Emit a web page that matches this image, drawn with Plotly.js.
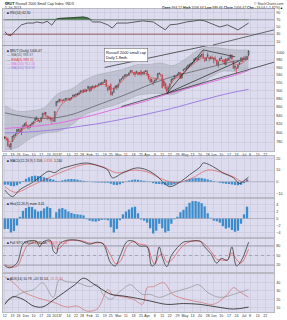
<!DOCTYPE html>
<html><head><meta charset="utf-8">
<script src="https://cdn.plot.ly/plotly-3.0.1.min.js"></script>
<style>html,body{margin:0;padding:0;background:#fff;}#wrap{position:relative;width:287px;height:320px;}#chart{position:absolute;left:0;top:0;width:287px;height:320px;}#rsi{position:absolute;left:0;top:0;width:287px;height:48px;}</style>
</head><body><div id="wrap"><div id="chart"></div><div id="rsi"></div></div>
<script>
// ---- price data (trading-day index 0 = 12 Nov 2012 ... 161 = 5 Jul 2013) ----
const openP = [790,786,787,773,769,781,792,795,799,806, 807,800,813,816,823,815,813,815,821,821,
 828,834,831,826,826,836,845,843,836,835, 834,831,829,826,863,873,874,878,876,876,
 880,880,879,877,881,885,888,889,892,891, 895,900,897,902,899,905,909,900,908,911,
 909,912,912,917,915,922,921,927,908,903, 915,891,896,907,908,911,921,929,931,938,
 937,940,940,947,952,942,946,945,946,942, 950,943,942,950,951,942,930,923,917,923,
 928,932,944,941,940,912,919,908,899,909, 920,929,931,937,938,943,946,932,951,955,
 958,961,967,968,971,974,982,985,981,988, 993,997,979,979,994,986,983,986,984,985,
 980,968,979,985,979,979,968,983,980,985, 993,977,960,958,959,968,976,985,981,986,
 983,994];
const highP = [793,792,790,776,778,793,796,799,808,809, 811,812,818,822,826,818,818,820,824,827,
 836,838,834,829,836,846,849,848,840,838, 837,834,833,850,874,876,880,879,877,879,
 882,881,882,882,884,890,890,892,894,897, 901,902,903,905,903,912,910,911,913,912,
 914,914,918,920,922,923,928,928,910,911, 919,897,908,913,914,918,929,931,937,942,
 942,942,946,953,953,948,949,951,948,948, 953,947,950,953,953,943,932,930,924,928,
 932,945,947,943,941,925,919,911,910,918, 930,932,940,938,944,948,947,945,956,958,
 962,967,970,972,974,984,987,986,989,995, 997,1008,986,987,1001,987,992,992,987,992,
 981,975,986,991,983,982,984,986,990,996, 996,979,965,962,967,975,987,987,991,992,
 992,1006];
const lowP = [786,783,770,766,763,780,788,793,798,802, 802,795,809,813,814,809,808,811,816,819,
 827,829,825,823,825,835,840,838,829,832, 826,820,826,825,862,869,871,872,869,874,
 874,876,876,874,878,884,885,884,888,890, 894,896,894,896,896,903,897,900,906,903,
 908,909,911,914,914,916,920,910,897,902, 889,887,894,906,902,906,920,926,929,933,
 935,936,937,946,946,940,935,944,939,941, 937,942,941,948,938,928,919,920,913,920,
 923,931,940,935,906,911,902,893,898,905, 918,926,930,932,937,940,930,931,950,953,
 953,958,962,965,968,973,978,977,980,986, 988,983,974,977,987,976,982,983,971,978,
 966,960,977,983,973,967,965,976,979,984, 982,956,951,943,956,966,975,975,980,979,
 980,990];
const closeP = [789,786,772,769,777,793,795,797,808,808, 803,811,816,821,815,814,815,819,822,826,
 832,832,827,825,835,845,843,847,836,834, 831,830,827,849,873,873,879,876,875,877,
 880,880,879,881,882,889,889,891,891,894, 900,898,902,898,902,911,898,910,911,908,
 913,912,917,917,921,920,928,910,901,911, 889,896,906,911,913,917,928,930,936,938,
 941,940,946,952,949,944,941,950,941,947, 941,946,949,951,940,930,923,929,923,927,
 930,944,944,942,907,925,906,898,908,917, 929,930,939,936,942,947,931,944,955,957,
 962,967,967,972,973,983,985,979,989,992, 995,987,984,986,990,983,988,984,985,982,
 967,975,984,984,976,969,983,978,984,993, 982,957,964,956,966,973,986,977,986,985,
 990,1006];

// ---- overlays ----
const ema8Idx = [0,4,8,12,16,20,24,28,32,36,40,44,48,52,56,60,64,68,72,76,80,84,88,92,96,100,104,108,112,116,120,124,128,132,136,140,144,148,152,156,160,161];
const ema8Val = [792,780,795,808,815,824,830,838,833,858,874,880,888,897,903,909,916,913,904,918,934,946,945,946,935,930,928,911,929,938,954,967,980,987,986,978,979,980,969,970,983,989];
const bbIdx = [0,8,17,26,35,44,52,61,70,78,87,95,103,111,120,128,136,144,152,161];
const bbUpper = [863,850,851,858,892,904,925,940,948,955,967,968,972,965,985,1008,1016,1012,1008,1008];
const bbLower = [763,768,788,800,803,818,840,852,862,872,887,892,893,890,905,915,935,950,950,958];
const ma50Idx = [0,23,41,63,79,93,107,129,153,161];
const ma50Val = [846,833,839,867,889,911,931,954,978,983];
const ma100Idx = [0,30,52,76,93,107,129,153,161];
const ma100Val = [810,819,835,858,874,891,914,941,952];
const ma200Idx = [0,10,20,30,40,50,60,70,80,90,100,110,120,130,140,150,161];
const ma200Val = [800,801,803,806,810,815,820,826,833,840,848,856,866,876,886,895,903];

// hand-drawn trend lines: [startIdx, startPrice, endIdx, endPrice]
const trendLines = [
  [66, 960, 178.5, 1062],
  [77, 861, 178.5, 975],
  [107, 893, 131, 1008],
  [107, 893, 155, 978],
  [131, 1008, 152, 989]
];

// ---- RSI ----
const rsiIdx = [0,2,4,6,8,11,15,19,21,25,28,31,34,36,41,48,52,55,58,63,68,71,74,81,85,91,98,103,106,109,114,120,124,129,132,138,142,147,151,154,157,161];
const rsiVal = [37,28,27,36,45,56,61,61,64,61,66,55,72,74,75,78,78,75,64,64,56,47,61,61,64,67,64,50,42,56,58,64,67,69,67,56,50,56,47,42,50,61];

// ---- MACD ----
const macdIdx = [0,5,10,19,25,29,33,37,41,48,54,61,68,71,78,87,94,101,105,109,116,122,129,131,138,144,151,155,158,161];
const macdVal = [-7,-12.6,-6.7,0,5.9,9,7.8,11,12.6,15,16,14,10,3.4,7.6,11.8,10,4.2,-0.8,-4.2,0,5.9,12.6,16,12.6,7.6,3.4,-1.5,1.0,4.0];
const sigIdx = [0,7,19,30,41,54,65,74,85,94,105,114,124,134,142,151,157,161];
const sigVal = [-4,-9,-2.5,4,10,15,12.6,7.6,10,8.4,1.7,-0.8,3.4,10,8.4,4.2,0,1.7];
const histIdx = [0,2,4,6,8,10,12,14,16,18,20,22,24,26,28,30,32,34,36,38,40,42,44,46,48,50,52,54,56,58,60,62,64,66,68,70,72,74,76,78,80,82,84,86,88,90,92,94,96,98,100,102,104,106,108,110,112,114,116,118,120,122,124,126,128,130,132,134,136,138,140,142,144,146,148,150,152,154,156,158,160];
const macdHist = [-2.5,-2.5,-3.5,-3.8,-3.0,-1.5,0.5,2.5,3.8,4.8,5.2,5.0,4.5,3.8,3.2,2.5,1.8,0.8,0.5,1.2,1.8,2.2,2.4,2.2,1.8,1.2,0.8,0.4,0.1,-0.3,-0.5,-0.6,-0.7,-0.8,-0.8,-1.6,-2.6,-2.8,-2.2,-1.0,0.2,1.0,1.6,1.9,1.7,1.2,0.8,0.4,-0.3,-1.2,-1.8,-1.9,-2.2,-2.8,-3.1,-2.9,-2.2,-1.3,-0.4,0.4,1.4,2.3,2.9,3.3,3.4,3.1,2.7,2.0,1.3,0.6,-0.1,-0.8,-1.3,-1.7,-1.9,-2.3,-2.7,-3.0,-2.6,-1.2,2.0];
const hist2 = [-3.0,-3.0,-4.0,-3.6,-2.0,0.5,2.2,3.0,3.4,3.3,2.6,2.0,2.2,2.9,3.4,3.0,0.2,1.8,2.8,3.0,2.6,2.0,1.6,1.3,1.2,1.1,0.9,-0.2,-0.6,-0.8,-0.9,-0.7,-0.4,-0.3,-0.5,-2.5,-4.0,-3.0,-0.5,1.2,2.0,2.6,3.2,3.4,1.5,-0.3,-0.6,-1.2,-2.8,-4.3,-3.5,-1.5,-2.8,-4.0,-3.6,-1.5,-0.2,0.5,1.8,2.5,3.4,4.5,5.0,5.0,4.8,4.4,3.5,1.5,0.2,-0.6,-0.8,-1.2,-2.2,-2.9,-2.6,-3.3,-3.8,-3.5,-1.5,1.2,3.4];

// ---- Stochastics ----
const stochIdx = [0,3,8,12,15,21,23,25,30,32,34,36,41,48,52,56,61,65,70,73,76,81,85,89,94,97,99,102,104,107,110,114,118,122,129,132,136,140,143,147,150,153,156,161];
const stochK = [18,11,26,86,95,95,77,92,98,65,56,86,98,98,92,86,92,86,26,17,47,95,95,80,77,17,22,77,45,15,50,75,92,95,95,77,56,26,41,35,77,17,32,92];
const stochD = [22,15,16,55,82,93,88,87,95,84,70,72,95,98,95,89,90,88,50,25,30,80,94,86,80,40,22,50,55,30,35,60,82,93,95,86,65,38,36,36,58,38,26,70];

// ---- ADX ----
const adxIdx = [0,5,12,19,25,32,39,46,52,58,64,70,78,85,96,107,118,129,140,151,161];
const adxVal = [14,23,20,12,11,19,28,37,45,39,32,26,24,22,18,14,15,14,11,8.5,10.8];
const pdiIdx = [0,12,19,25,32,36,41,48,56,61,65,70,76,83,87,91,96,102,111,122,128,134,142,151,155,161];
const pdiVal = [16.6,28.1,31.5,39.6,22.3,43.1,40.8,39.6,35,37.3,25.8,20,29.2,37.3,31.5,25.8,25.8,22.3,28.1,33.9,37.3,28.1,22.3,25.8,28.1,31.5];
const mdiIdx = [0,5,12,19,25,32,41,48,54,61,68,71,76,85,91,94,98,105,111,120,129,138,147,151,155,161];
const mdiVal = [46.5,40.8,29.2,23.5,20,16.6,10.8,12,6.2,8.5,31.5,25.8,23.5,20,14.2,33.9,35,39.6,25.8,20,16.6,14.2,25.8,33.9,29.2,22.3];

// ---- axis labels ----
const tickIdx = [0,5,9,14,19,24,29,34,37,42,47,51,56,61,66,70,75,80,85,90,94,99,104,109,114,119,124,129,134,138,143,148,153,158,162,167,172];
const tickTxt = ['12','19','26','Dec','10','17','24','2013','7','14','22','28','Feb','11','19','25','Mar','11','18','25','Apr','8','15','22','29','May','13','20','28','Jun','10','17','24','Jul','8','15','22'];
const priceTicks = [780,800,820,840,860,880,900,920,940,960,980,1000];

// ---------------------------------------------------------------
const F = 'Liberation Sans, Arial, sans-serif';
const GRID = '#c3c3d6';
const BOX = '#8a8a98';
const BG = '#dcdcee';
const N = closeP.length;
const tf = {family:F, size:3.6, color:'#333'};

function xa(anchor, labels) {
  return {anchor: anchor, range:[-1.2,177.8], tickmode:'array', tickvals:tickIdx, ticktext:tickTxt,
    showticklabels: labels, tickfont: tf, tickangle:0, ticks:'', showgrid:true, gridcolor:GRID, gridwidth:0.5,
    zeroline:false, showline:true, mirror:true, linecolor:BOX, linewidth:0.6,
    rangeslider:{visible:false}, fixedrange:true, ticklabelstandoff:0};
}
function ya(anchor, dom, range, vals, extra) {
  return Object.assign({anchor: anchor, domain:dom, range:range, side:'right', tickmode:'array', tickvals:vals,
    tickfont: tf, ticks:'', showgrid:true, gridcolor:GRID, gridwidth:0.5, zeroline:false,
    showline:true, mirror:true, linecolor:BOX, linewidth:0.6, fixedrange:true, ticklabelstandoff:1}, extra||{});
}
function xm(a, labels) { const o = xa(a, labels); o.matches = 'x'; return o; }

// ================= main figure (price + lower indicator panels) =================
const traces = [];
traces.push({x: bbIdx, y: bbLower, type:'scatter', mode:'lines', line:{color:'#9ea2ac', width:0.5, shape:'spline'}, xaxis:'x', yaxis:'y'});
traces.push({x: bbIdx, y: bbUpper, type:'scatter', mode:'lines', line:{color:'#9ea2ac', width:0.5, shape:'spline'}, fill:'tonexty', fillcolor:'rgba(150,156,166,0.38)', xaxis:'x', yaxis:'y'});
traces.push({x: ma200Idx, y: ma200Val, type:'scatter', mode:'lines', line:{color:'#a17fe0', width:1, shape:'spline'}, xaxis:'x', yaxis:'y'});
traces.push({x: ma100Idx, y: ma100Val, type:'scatter', mode:'lines', line:{color:'#e070e0', width:1, shape:'spline'}, xaxis:'x', yaxis:'y'});
traces.push({x: ma50Idx, y: ma50Val, type:'scatter', mode:'lines', line:{color:'#555760', width:0.7, shape:'spline'}, xaxis:'x', yaxis:'y'});
traces.push({x: ema8Idx, y: ema8Val, type:'scatter', mode:'lines', line:{color:'#e23a3a', width:0.6, shape:'spline'}, xaxis:'x', yaxis:'y'});
trendLines.forEach(t => traces.push({x:[t[0], t[2]], y:[t[1], t[3]], type:'scatter', mode:'lines', line:{color:'#222', width:0.7}, xaxis:'x', yaxis:'y'}));

const redI = [], blkI = [];
for (let i = 0; i < N; i++) { if (i > 0 && closeP[i] < closeP[i-1]) redI.push(i); else blkI.push(i); }
function candle(ids, col) {
  return {type:'candlestick', x: ids, open: ids.map(i=>openP[i]), high: ids.map(i=>highP[i]),
    low: ids.map(i=>lowP[i]), close: ids.map(i=>closeP[i]),
    increasing:{line:{color:col, width:0.6}, fillcolor:BG},
    decreasing:{line:{color:col, width:0.6}, fillcolor:col},
    whiskerwidth:0, xaxis:'x', yaxis:'y'};
}
traces.push(candle(blkI, '#111111'));
traces.push(candle(redI, '#d8101a'));

traces.push({x: histIdx, y: macdHist, type:'bar', width:1.5, marker:{color:'#3b8ccc', line:{width:0}}, xaxis:'x3', yaxis:'y3'});
traces.push({x: sigIdx, y: sigVal, type:'scatter', mode:'lines', line:{color:'#e04848', width:0.6, shape:'spline'}, xaxis:'x3', yaxis:'y3'});
traces.push({x: macdIdx, y: macdVal, type:'scatter', mode:'lines', line:{color:'#222', width:0.7, shape:'spline'}, xaxis:'x3', yaxis:'y3'});
traces.push({x: histIdx, y: hist2, type:'bar', width:1.5, marker:{color:'#3b8ccc', line:{width:0}}, xaxis:'x4', yaxis:'y4'});
traces.push({x: stochIdx, y: stochD, type:'scatter', mode:'lines', line:{color:'#e05050', width:0.7, shape:'spline'}, xaxis:'x5', yaxis:'y5'});
traces.push({x: stochIdx, y: stochK, type:'scatter', mode:'lines', line:{color:'#222', width:0.7, shape:'spline'}, xaxis:'x5', yaxis:'y5'});
traces.push({x: pdiIdx, y: pdiVal, type:'scatter', mode:'lines', line:{color:'#8f938f', width:0.7, shape:'spline'}, xaxis:'x6', yaxis:'y6'});
traces.push({x: mdiIdx, y: mdiVal, type:'scatter', mode:'lines', line:{color:'#d07070', width:0.7, shape:'spline'}, xaxis:'x6', yaxis:'y6'});
traces.push({x: adxIdx, y: adxVal, type:'scatter', mode:'lines', line:{color:'#222', width:0.8, shape:'spline'}, xaxis:'x6', yaxis:'y6'});

const layout = {
  width:287, height:320, margin:{l:3, r:13, t:8, b:7},
  paper_bgcolor:'#ffffff', plot_bgcolor:BG, showlegend:false, hovermode:false,
  font:{family:F, size:4, color:'#222'},
  xaxis: xa('y', true),
  xaxis3: xm('y3', false), xaxis4: xm('y4', false), xaxis5: xm('y5', false),
  xaxis6: xm('y6', true),
  yaxis: ya('x', [0.5311,0.8754], [2.8812,3.0082], priceTicks, {type:'log'}),
  yaxis3: ya('x3', [0.3803,0.5148], [-13,22], [-10,0,10,20]),
  yaxis4: ya('x4', [0.2492,0.3738], [-5.3,5.6], [-4,-2,0,2,4]),
  yaxis5: ya('x5', [0.1344,0.2426], [-2,102], [20,50,80]),
  yaxis6: ya('x6', [0.0033,0.1279], [5,50], [10,20,30,40]),
  shapes: [
    {type:'line', xref:'paper', x0:0, x1:1, yref:'y3', y0:0, y1:0, line:{color:'#9a9aaa', width:0.5}},
    {type:'line', xref:'paper', x0:0, x1:1, yref:'y4', y0:0, y1:0, line:{color:'#9a9aaa', width:0.5}},
    {type:'line', xref:'paper', x0:0, x1:1, yref:'y5', y0:80, y1:80, line:{color:'#7a7a88', width:0.6}},
    {type:'line', xref:'paper', x0:0, x1:1, yref:'y5', y0:20, y1:20, line:{color:'#7a7a88', width:0.6}},
    {type:'line', xref:'paper', x0:0, x1:1, yref:'y5', y0:50, y1:50, line:{color:'#7a7a88', width:0.5, dash:'dot'}}
  ],
  annotations: [
    {xref:'paper', yref:'paper', x:0, y:1.026, xanchor:'left', yanchor:'top', showarrow:false, text:'<b>$RUT</b> Russell 2000 Small Cap Index  INDX', font:{family:F, size:3.6, color:'#222'}},
    {xref:'paper', yref:'paper', x:0, y:1.013, xanchor:'left', yanchor:'top', showarrow:false, text:'5-Jul-2013', font:{family:F, size:3.4, color:'#222'}},
    {xref:'paper', yref:'paper', x:1.04, y:1.026, xanchor:'right', yanchor:'top', showarrow:false, text:'© StockCharts.com', font:{family:F, size:3.4, color:'#333'}},
    {xref:'paper', yref:'paper', x:1.04, y:1.013, xanchor:'right', yanchor:'top', showarrow:false, text:'<b>Open</b> 994.17 <b>High</b> 1006.64 <b>Low</b> 989.66 <b>Close</b> 1006.47 <b>Chg</b> +16.04 (+1.62%)▲', font:{family:F, size:3.4, color:'#222'}},
    {xref:'paper', yref:'paper', x:0.006, y:0.873, xanchor:'left', yanchor:'top', showarrow:false, align:'left',
      text:'■ $RUT (Daily) 1006.47<br><span style="color:#666">— MA(50) 983.37</span><br><span style="color:#e23a3a">— EMA(8) 989.72</span><br><span style="color:#e070e0">— MA(100) 952.16</span><br><span style="color:#a17fe0">— MA(200) 903.59</span>',
      font:{family:F, size:3.3, color:'#222'}},
    {xref:'paper', yref:'paper', x:0.4539, y:0.8459, xanchor:'center', yanchor:'middle', showarrow:false, align:'left',
      text:'Russell 2000 small cap<br>Daily\'1.8mth', font:{family:F, size:3.9, color:'#111'},
      bgcolor:'#ffffff', bordercolor:'#555', borderwidth:0.5, borderpad:1.5},
    {xref:'paper', yref:'paper', x:0.006, y:0.513, xanchor:'left', yanchor:'top', showarrow:false, text:'■ MACD(12,26,9) 1.558, <span style="color:#e04848">0.318</span>, 1.240', font:{family:F, size:3.3, color:'#222'}},
    {xref:'paper', yref:'paper', x:0.006, y:0.372, xanchor:'left', yanchor:'top', showarrow:false, text:'■ Hist(12,26,9) mom 3.41', font:{family:F, size:3.3, color:'#222'}},
    {xref:'paper', yref:'paper', x:0.006, y:0.241, xanchor:'left', yanchor:'top', showarrow:false, text:'■ Full STO %K(14,3) 91.85, <span style="color:#e05050">%D(3) 81.26</span>', font:{family:F, size:3.3, color:'#222'}},
    {xref:'paper', yref:'paper', x:0.006, y:0.126, xanchor:'left', yanchor:'top', showarrow:false, text:'■ ADX(14) 10.78, +DI 31.54, <span style="color:#d07070">-DI 22.31</span>', font:{family:F, size:3.3, color:'#222'}}
  ]
};
Plotly.newPlot('chart', traces, layout, {staticPlot:true, displayModeBar:false});

// ================= RSI panel (own small figure laid over the top strip) =================
const revIdx = rsiIdx.slice().reverse();
const rsiTraces = [
  {x: rsiIdx.concat(revIdx), y: rsiVal.map(v=>Math.max(v,70)).concat(revIdx.map(()=>70)),
    type:'scatter', mode:'lines', line:{width:0.3, color:'#2f6a2f'}, fill:'toself', fillcolor:'#3f7f3f'},
  {x: rsiIdx.concat(revIdx), y: rsiVal.map(v=>Math.min(v,30)).concat(revIdx.map(()=>30)),
    type:'scatter', mode:'lines', line:{width:0.3, color:'#c01818'}, fill:'toself', fillcolor:'#d02020'},
  {x: rsiIdx, y: rsiVal, type:'scatter', mode:'lines', line:{color:'#222', width:0.7}}
];
const rsiLayout = {
  width:287, height:48, margin:{l:3, r:13, t:9, b:3},
  paper_bgcolor:'rgba(0,0,0,0)', plot_bgcolor:BG, showlegend:false, hovermode:false,
  font:{family:F, size:4, color:'#222'},
  xaxis: xa('y', false),
  yaxis: ya('x', [0,1], [0,100], [10,30,50,70,90]),
  shapes: [
    {type:'line', xref:'paper', x0:0, x1:1, yref:'y', y0:70, y1:70, line:{color:'#7a7a88', width:0.6}},
    {type:'line', xref:'paper', x0:0, x1:1, yref:'y', y0:30, y1:30, line:{color:'#7a7a88', width:0.6}},
    // hand-drawn channel line continuing up from the price panel
    {type:'line', xref:'paper', yref:'paper', x0:0.775, y0:0, x1:1, y1:0.42, line:{color:'#333', width:0.7}}
  ],
  annotations: [
    {xref:'paper', yref:'paper', x:0.006, y:1, xanchor:'left', yanchor:'top', showarrow:false, text:'■ RSI(14) 62.30', font:{family:F, size:3.3, color:'#222'}}
  ]
};
Plotly.newPlot('rsi', rsiTraces, rsiLayout, {staticPlot:true, displayModeBar:false});
</script>
</body></html>
